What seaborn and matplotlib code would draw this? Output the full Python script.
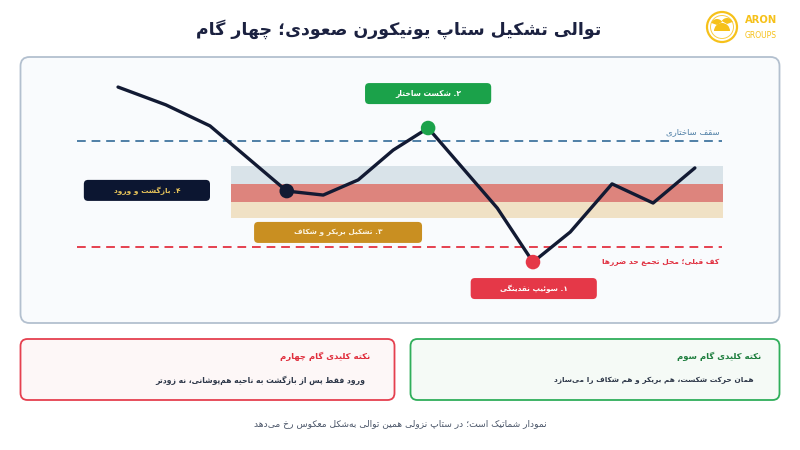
import matplotlib
matplotlib.use("Agg")
import matplotlib.pyplot as plt
from matplotlib.patches import FancyBboxPatch, Circle, Wedge
import seaborn as sns
import pandas as pd
import numpy as np

# ---------------- data ----------------
time_x = [12.9, 19.2, 25.0, 35.1, 39.9, 44.5, 49.1, 53.7, 62.8, 67.5, 72.4, 77.9, 83.3, 88.8]
price_y = [88.7, 82.0, 74.1, 49.6, 48.1, 53.8, 65.0, 73.3, 43.2, 22.9, 34.2, 52.3, 45.1, 58.3]
key_x = [35.1, 53.7, 67.5]
key_y = [49.6, 73.3, 22.9]
key_colors = ["#121a33", "#1ba24a", "#e53848"]

ceiling_level = 68.4
floor_level = 28.6
zone_x = (27.8, 92.5)
band_bounds = [(52.3, 59.0), (45.4, 52.3), (39.5, 45.4)]
band_colors = ["#d9e3e9", "#dd847d", "#f0e1c5"]

badge_labels = ["۲. شکست ساختار", "۴. بازگشت و ورود", "۳. تشکیل بریکر و شکاف", "۱. سوئیپ نقدینگی"]
badge_boxes = [(45.4, 62.0, 82.3, 90.2), (8.4, 25.0, 45.9, 53.8), (30.8, 52.9, 30.1, 38.0), (59.3, 75.9, 9.0, 16.9)]
badge_fill = ["#1ba24a", "#0c1631", "#c98f21", "#e53848"]
badge_text = ["#ffffff", "#e7c45a", "#fbf3e0", "#ffffff"]
badge_text_w = [60, 60, 80, 61]

title_text = "توالی تشکیل ستاپ یونیکورن صعودی؛ چهار گام"
ceiling_label = "سقف ساختاری"
floor_label = "کف قبلی؛ محل تجمع حد ضررها"
card_titles = ["نکته کلیدی گام چهارم", "نکته کلیدی گام سوم"]
card_bodies = ["ورود فقط پس از بازگشت به ناحیه هم\u200cپوشانی، نه زودتر",
               "همان حرکت شکست، هم بریکر و هم شکاف را می\u200cسازد"]
footer_text = "نمودار شماتیک است؛ در ستاپ نزولی همین توالی به\u200cشکل معکوس رخ می\u200cدهد"

# ---------------- Persian shaping ----------------
FORMS = {
    '\u0627': ('\uFE8D', '\uFE8E', None, None),
    '\u0628': ('\uFE8F', '\uFE90', '\uFE91', '\uFE92'),
    '\u067E': ('\uFB56', '\uFB57', '\uFB58', '\uFB59'),
    '\u062A': ('\uFE95', '\uFE96', '\uFE97', '\uFE98'),
    '\u062B': ('\uFE99', '\uFE9A', '\uFE9B', '\uFE9C'),
    '\u062C': ('\uFE9D', '\uFE9E', '\uFE9F', '\uFEA0'),
    '\u0686': ('\uFB7A', '\uFB7B', '\uFB7C', '\uFB7D'),
    '\u062D': ('\uFEA1', '\uFEA2', '\uFEA3', '\uFEA4'),
    '\u062E': ('\uFEA5', '\uFEA6', '\uFEA7', '\uFEA8'),
    '\u062F': ('\uFEA9', '\uFEAA', None, None),
    '\u0630': ('\uFEAB', '\uFEAC', None, None),
    '\u0631': ('\uFEAD', '\uFEAE', None, None),
    '\u0632': ('\uFEAF', '\uFEB0', None, None),
    '\u0698': ('\uFB8A', '\uFB8B', None, None),
    '\u0633': ('\uFEB1', '\uFEB2', '\uFEB3', '\uFEB4'),
    '\u0634': ('\uFEB5', '\uFEB6', '\uFEB7', '\uFEB8'),
    '\u0635': ('\uFEB9', '\uFEBA', '\uFEBB', '\uFEBC'),
    '\u0636': ('\uFEBD', '\uFEBE', '\uFEBF', '\uFEC0'),
    '\u0637': ('\uFEC1', '\uFEC2', '\uFEC3', '\uFEC4'),
    '\u0638': ('\uFEC5', '\uFEC6', '\uFEC7', '\uFEC8'),
    '\u0639': ('\uFEC9', '\uFECA', '\uFECB', '\uFECC'),
    '\u063A': ('\uFECD', '\uFECE', '\uFECF', '\uFED0'),
    '\u0641': ('\uFED1', '\uFED2', '\uFED3', '\uFED4'),
    '\u0642': ('\uFED5', '\uFED6', '\uFED7', '\uFED8'),
    '\u06A9': ('\uFB8E', '\uFB8F', '\uFB90', '\uFB91'),
    '\u06AF': ('\uFB92', '\uFB93', '\uFB94', '\uFB95'),
    '\u0644': ('\uFEDD', '\uFEDE', '\uFEDF', '\uFEE0'),
    '\u0645': ('\uFEE1', '\uFEE2', '\uFEE3', '\uFEE4'),
    '\u0646': ('\uFEE5', '\uFEE6', '\uFEE7', '\uFEE8'),
    '\u0647': ('\uFEE9', '\uFEEA', '\uFEEB', '\uFEEC'),
    '\u0648': ('\uFEED', '\uFEEE', None, None),
    '\u06CC': ('\uFBFC', '\uFBFD', '\uFBFE', '\uFBFF'),
    '\u0626': ('\uFE89', '\uFE8A', '\uFE8B', '\uFE8C'),
    '\u0621': ('\uFE80', None, None, None),
}


def joins_next(c):
    return c in FORMS and FORMS[c][2] is not None


def joins_prev(c):
    return c in FORMS and FORMS[c][1] is not None


def shape(s):
    chars = list(s)
    out = []
    i = 0
    n = len(chars)
    while i < n:
        c = chars[i]
        if c not in FORMS:
            if c != '\u200c':
                out.append(c)
            i += 1
            continue
        prev = chars[i - 1] if i > 0 else ''
        con_prev = joins_next(prev) and joins_prev(c)
        if c == '\u0644' and i + 1 < n and chars[i + 1] == '\u0627':
            out.append('\uFEFC' if con_prev else '\uFEFB')
            i += 2
            continue
        nxt = chars[i + 1] if i + 1 < n else ''
        con_next = joins_next(c) and joins_prev(nxt)
        iso, fin, ini, med = FORMS[c]
        if con_prev and con_next:
            g = med
        elif con_prev:
            g = fin
        elif con_next:
            g = ini
        else:
            g = iso
        out.append(g)
        i += 1
    return ''.join(reversed(out))


# ---------------- figure ----------------
sns.set_theme(style="white")
plt.rcParams['font.family'] = ['DejaVu Sans']

W, H = 800, 450
fig = plt.figure(figsize=(8, 4.5), dpi=100)
fig.patch.set_facecolor("white")
renderer = fig.canvas.get_renderer()
GROW = 1.1  # DejaVu is wider than the reference face; allow slightly wider text


def fit(t, target_w):
    """scale the font so the rendered text spans target_w pixels"""
    for _ in range(3):
        w = t.get_window_extent(renderer=renderer).width
        if w > 0:
            t.set_fontsize(t.get_fontsize() * target_w / w)
    return t


bg = fig.add_axes([0, 0, 1, 1])
bg.set_xlim(0, W)
bg.set_ylim(H, 0)
bg.axis("off")

bg.add_patch(FancyBboxPatch((20.5, 57), 759, 266, boxstyle="round,pad=0,rounding_size=9",
                            fc="#f9fbfd", ec="#b3c0cf", lw=1.3, zorder=1))
bg.add_patch(FancyBboxPatch((20.5, 339), 374, 61, boxstyle="round,pad=0,rounding_size=7",
                            fc="#fdf7f7", ec="#e5404f", lw=1.3, zorder=1))
bg.add_patch(FancyBboxPatch((410.5, 339), 369, 61, boxstyle="round,pad=0,rounding_size=7",
                            fc="#f5faf6", ec="#2fae5a", lw=1.3, zorder=1))

fit(bg.text(399, 29, shape(title_text), ha="center", va="center", fontsize=12,
            fontweight="bold", color="#1b2140"), 405)

fit(bg.text(370, 356, shape(card_titles[0]), ha="right", va="center", fontsize=6,
            fontweight="bold", color="#e02d3c"), 82 * GROW)
fit(bg.text(365, 380, shape(card_bodies[0]), ha="right", va="center", fontsize=5,
            fontweight="bold", color="#2d3748"), 190 * GROW)
fit(bg.text(761, 356, shape(card_titles[1]), ha="right", va="center", fontsize=6,
            fontweight="bold", color="#1e7e3e"), 76 * GROW)
fit(bg.text(754, 380, shape(card_bodies[1]), ha="right", va="center", fontsize=5,
            fontweight="bold", color="#2d3748"), 181 * GROW)
fit(bg.text(400, 424, shape(footer_text), ha="center", va="center", fontsize=6,
            color="#4a5568"), 266 * GROW)

# logo
gold = "#f6c11a"
bg.add_patch(Circle((722, 27), 15, fc="none", ec=gold, lw=1.6))
bg.add_patch(Circle((722, 27), 11.5, fc="none", ec=gold, lw=0.7, alpha=0.8))
bg.add_patch(Wedge((722, 31), 8, 180, 360, fc=gold, ec="none"))
bg.add_patch(Wedge((717, 25), 6, 200, 330, fc=gold, ec="none"))
bg.add_patch(Wedge((727, 24), 6, 210, 340, fc=gold, ec="none"))
fit(bg.text(745, 20, "ARON", ha="left", va="center", fontsize=8, fontweight="bold", color=gold), 32)
fit(bg.text(745, 35, "GROUPS", ha="left", va="center", fontsize=5, color=gold), 32)

# chart axes over panel
ax = fig.add_axes([20 / W, (H - 323) / H, 760 / W, 266 / H])
ax.set_xlim(0, 100)
ax.set_ylim(0, 100)
ax.axis("off")
ax.patch.set_alpha(0)

aspect = (100 / 266) / (100 / 760)

for (lo, hi), col in zip(band_bounds, band_colors):
    ax.fill_between([zone_x[0], zone_x[1]], lo, hi, color=col, lw=0, zorder=1)

ax.hlines(ceiling_level, 7.5, 92.4, colors="#4f7fa6", linestyles=(0, (4.5, 3)), lw=1.4, zorder=2)
ax.hlines(floor_level, 7.5, 92.4, colors="#e5404f", linestyles=(0, (4.5, 3)), lw=1.4, zorder=2)
fit(ax.text(92.0, 71.8, shape(ceiling_label), ha="right", va="center", fontsize=6,
            color="#4f7fa6"), 49 * GROW)
fit(ax.text(92.0, 22.9, shape(floor_label), ha="right", va="center", fontsize=5,
            fontweight="bold", color="#e03040"), 107 * GROW)

df = pd.DataFrame({"t": time_x, "p": price_y})
sns.lineplot(data=df, x="t", y="p", ax=ax, color="#121a33", lw=2.4, sort=False, zorder=4)
ax.scatter(key_x, key_y, s=110, c=key_colors, zorder=5, linewidths=0)

for lab, (x0, x1, y0, y1), fc, tc, tw in zip(badge_labels, badge_boxes, badge_fill,
                                             badge_text, badge_text_w):
    ax.add_patch(FancyBboxPatch((x0, y0), x1 - x0, y1 - y0,
                                boxstyle="round,pad=0,rounding_size=0.55",
                                mutation_aspect=aspect, fc=fc, ec="none", zorder=6))
    fit(ax.text((x0 + x1) / 2, (y0 + y1) / 2, shape(lab), ha="center", va="center",
                fontsize=5.5, fontweight="bold", color=tc, zorder=7), tw * GROW)

ax.set_xlabel("")
ax.set_ylabel("")
fig.savefig("out.png", dpi=100, facecolor="white")
